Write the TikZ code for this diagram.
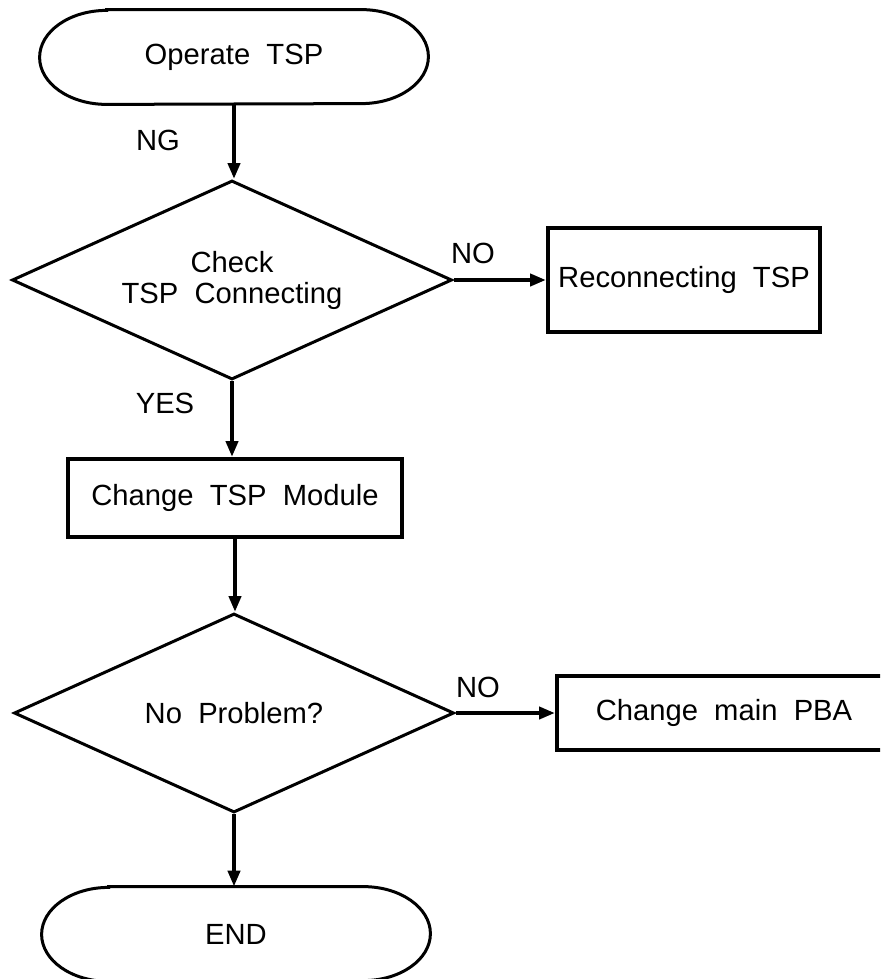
\documentclass[tikz,border=0pt]{standalone}
\usepackage{fontspec}
\setmainfont{Liberation Sans}
\usetikzlibrary{shapes.geometric,arrows.meta,calc}
\begin{document}
\begin{tikzpicture}[x=0.5pt,y=-0.5pt,
  every node/.style={font=\fontsize{14.6}{15.5}\selectfont},
  term/.style={minimum width=194pt,minimum height=47pt,inner sep=0pt},
  termline/.style={line width=1.5pt},
  decision/.style={draw,diamond,aspect=2.21,minimum width=220pt,minimum height=99.5pt,inner sep=0pt,line width=1.5pt,align=center},
  procbox/.style={draw,rectangle,line width=2pt,inner sep=0pt,align=center},
  flow/.style={line width=2pt,-{Triangle[length=8pt,width=6pt]}},
  lbl/.style={inner sep=0pt}
]
\useasboundingbox (0,0) rectangle (880,979);
\clip (0,0) rectangle (880,979);

% nodes
\node[term] (opnode) at (234,57) {Operate~ TSP};
\node[decision] (d1) at (232,280) {Check\\TSP~ Connecting};
\node[procbox,minimum width=136pt,minimum height=52pt] (rec) at (684,280) {Reconnecting~ TSP};
\node[procbox,minimum width=167pt,minimum height=39pt] (mod) at (235,498) {Change~ TSP~ Module};
\node[decision] (d2) at (234,713) {No~ Problem?};
\node[procbox,minimum width=167pt,minimum height=37pt] (pba) at (724,713) {Change~ main~ PBA};
\node[term] (endnode) at (236,934) {END};

% terminal outlines
\foreach \n in {opnode,endnode}
  \draw[termline] ($(\n.north west)+(67,0)$) -- ($(\n.north east)+(-67,0)$)
    arc[start angle=90,end angle=-90,x radius=33.5pt,y radius=23.5pt]
    -- ($(\n.south west)+(67,0)$)
    arc[start angle=270,end angle=90,x radius=33.5pt,y radius=23.5pt] -- cycle;

% labels
\node[lbl] (ng) at (158,140) {NG};
\node[lbl] (yes) at (165,403) {YES};
\node[lbl] (no1) at (473,253) {NO};
\node[lbl] (no2) at (478,687) {NO};

% connectors
\draw[flow] (opnode.south) -- (opnode.south |- d1.north);
\draw[flow] (d1.south) -- (d1.south |- mod.north);
\draw[flow] (mod.south) -- (mod.south |- d2.north);
\draw[flow] (d2.south) -- (d2.south |- endnode.north);
\draw[flow] (d1.east) -- (rec.west);
\draw[flow] (d2.east) -- (pba.west);
\end{tikzpicture}
\end{document}
